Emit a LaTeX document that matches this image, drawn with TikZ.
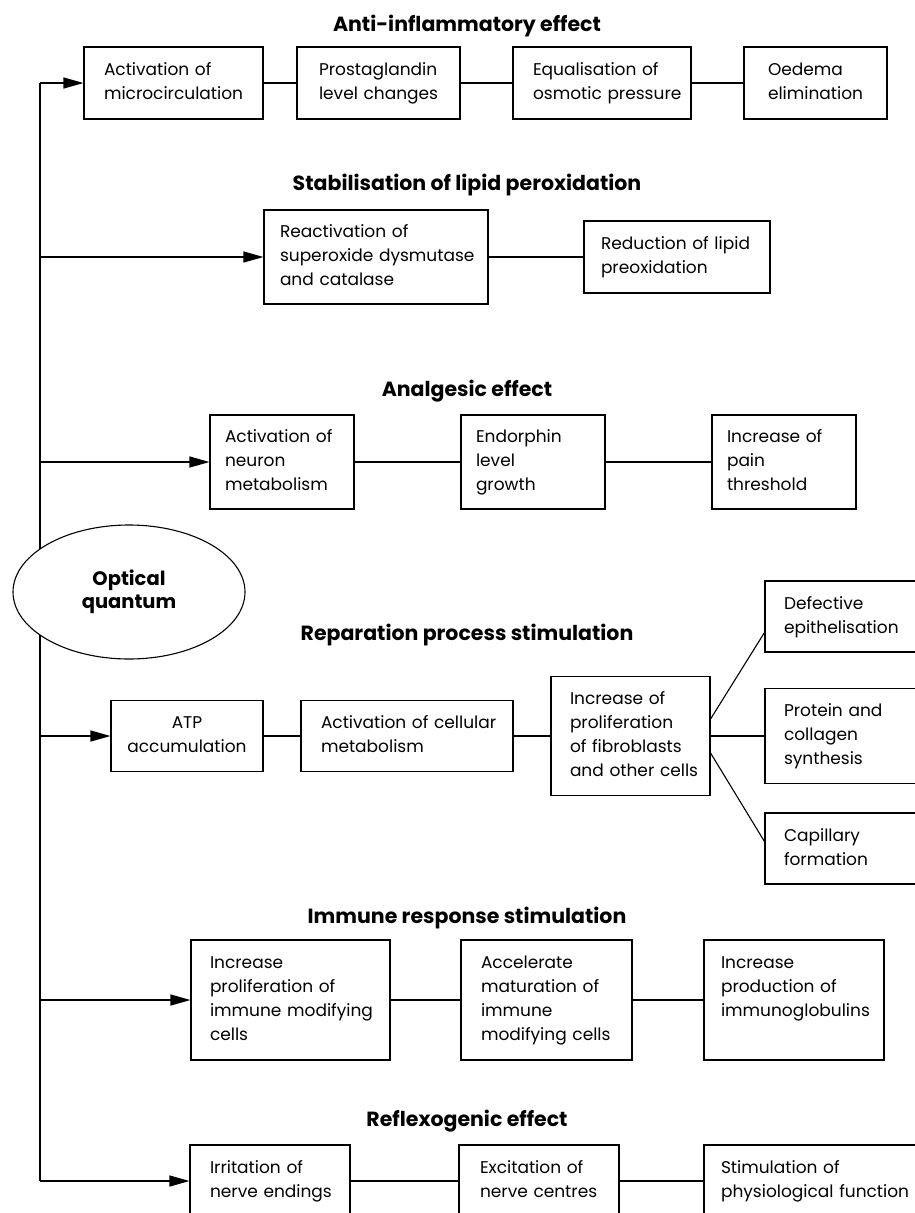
\documentclass[tikz,border=0pt]{standalone}
\usepackage{fontspec}
\setmainfont{Poppins}
\usetikzlibrary{shapes.geometric,arrows.meta}
\newcommand\tl[1]{\begin{tabular}{@{}l@{}}#1\end{tabular}}
\newcommand\tcn[1]{\begin{tabular}{@{}c@{}}#1\end{tabular}}
\begin{document}
\begin{tikzpicture}[x=1pt,y=-1pt,
  every node/.style={font=\fontsize{17}{24}\selectfont},
  bx/.style={draw, line width=1.1pt, inner ysep=0pt, align=left},
  ttl/.style={font=\fontsize{20.5}{24}\selectfont\bfseries, anchor=base, inner sep=0pt},
  ln/.style={line width=1.1pt},
  arr/.style={line width=1.3pt, -{Triangle[length=20pt,width=11pt]}}]
\useasboundingbox (0,0) rectangle (915,1213);
\fill[white] (0,0) rectangle (915,1213);
\clip (0,0) rectangle (915,1213);

% trunk
\coordinate (trunkTop) at (40,83);
\coordinate (trunkBot) at (40,1181);
\draw[ln] (trunkTop) -- (trunkBot);

% source
\node[ellipse, draw, fill=white, line width=1.1pt, minimum width=232pt, minimum height=134pt, inner sep=0pt, align=center, font=\fontsize{19.5}{23}\selectfont\bfseries] (src) at (129,592) {Optical\\quantum};

% titles
\node[ttl] (t1) at (467,31) {Anti-inflammatory effect};
\node[ttl] (t2) at (467,190) {Stabilisation of lipid peroxidation};
\node[ttl] (t3) at (467,396) {Analgesic effect};
\node[ttl] (t4) at (467,640) {Reparation process stimulation};
\node[ttl] (t5) at (467,923) {Immune response stimulation};
\node[ttl] (t6) at (467,1126) {Reflexogenic effect};

% row 1
\node[bx, inner xsep=20pt, text width=139pt, minimum height=72pt] (r1a) at (173.5,83) {\tl{Activation of\\microcirculation}};
\node[bx, inner xsep=22pt, text width=119pt, minimum height=72pt] (r1b) at (378.5,83) {\tl{Prostaglandin\\level changes}};
\node[bx, inner xsep=20pt, text width=138pt, minimum height=72pt] (r1c) at (602,83) {\tl{Equalisation of\\osmotic pressure}};
\node[bx, inner xsep=24pt, text width=95pt, minimum height=72pt] (r1d) at (815.5,83) {\tl{Oedema\\elimination}};

% row 2
\node[bx, inner xsep=16pt, text width=192pt, minimum height=94pt] (r2a) at (376,257) {\tl{Reactivation of\\superoxide dysmutase\\and catalase}};
\node[bx, inner xsep=17pt, text width=152pt, minimum height=72pt] (r2b) at (677,257) {\tl{Reduction of lipid\\preoxidation}};

% row 3
\node[bx, inner xsep=15pt, text width=114pt, minimum height=94pt] (r3a) at (282,462) {\tl{Activation of\\neuron\\metabolism}};
\node[bx, inner xsep=15pt, text width=114pt, minimum height=94pt] (r3b) at (533,462) {\tl{Endorphin\\level\\growth}};
\node[bx, inner xsep=15pt, text width=114pt, minimum height=94pt] (r3c) at (784,462) {\tl{Increase of\\pain\\threshold}};

% row 4
\node[bx, align=center, inner xsep=10pt, text width=132pt, minimum height=71pt] (r4a) at (187,736) {\tcn{ATP\\accumulation}};
\node[bx, inner xsep=20pt, text width=172pt, minimum height=71pt] (r4b) at (407,736) {\tl{Activation of cellular\\metabolism}};
\node[bx, inner xsep=19pt, text width=121pt, minimum height=119pt] (r4c) at (630.5,736) {\tl{Increase of\\proliferation\\of fibroblasts\\and other cells}};
\node[bx, inner xsep=19pt, text width=115pt, minimum height=71pt] (r4d) at (841.5,616.5) {\tl{Defective\\epithelisation}};
\node[bx, inner xsep=19pt, text width=115pt, minimum height=95pt] (r4e) at (841.5,736) {\tl{Protein and\\collagen\\synthesis}};
\node[bx, inner xsep=19pt, text width=115pt, minimum height=71pt] (r4f) at (841.5,848.5) {\tl{Capillary\\formation}};

% row 5
\node[bx, inner xsep=19pt, text width=161pt, minimum height=120pt] (r5a) at (290.5,1000) {\tl{Increase\\proliferation of\\immune modifying\\cells}};
\node[bx, inner xsep=20pt, text width=131pt, minimum height=120pt] (r5b) at (546.5,1000) {\tl{Accelerate\\maturation of\\immune\\modifying cells}};
\node[bx, inner xsep=17pt, text width=146pt, minimum height=120pt] (r5c) at (794,1000) {\tl{Increase\\production of\\immunoglobulins\\\mbox{}}};

% row 6
\node[bx, inner xsep=20pt, text width=120pt, minimum height=72pt] (r6a) at (270,1181) {\tl{Irritation of\\nerve endings}};
\node[bx, inner xsep=21pt, text width=118pt, minimum height=72pt] (r6b) at (539,1181) {\tl{Excitation of\\nerve centres}};
\node[bx, inner xsep=17pt, text width=180pt, minimum height=72pt] (r6c) at (811,1181) {\tl{Stimulation of\\physiological function}};

% arrows from trunk
\draw[arr] (trunkTop) -- (r1a.west);
\draw[arr] (r2a.west -| trunkTop) -- (r2a.west);
\draw[arr] (r3a.west -| trunkTop) -- (r3a.west);
\draw[arr] (r4a.west -| trunkTop) -- (r4a.west);
\draw[arr] (r5a.west -| trunkTop) -- (r5a.west);
\draw[arr] (trunkBot) -- (r6a.west);

% chain links
\draw[ln] (r1a) -- (r1b);
\draw[ln] (r1b) -- (r1c);
\draw[ln] (r1c) -- (r1d);
\draw[ln] (r2a) -- (r2b);
\draw[ln] (r3a) -- (r3b);
\draw[ln] (r3b) -- (r3c);
\draw[ln] (r4a) -- (r4b);
\draw[ln] (r4b) -- (r4c);
\draw[ln] (r4c.east) -- (r4e.west);
\draw[ln] ([yshift=17pt]r4c.east) -- ([yshift=20pt]r4d.south west);
\draw[ln] ([yshift=-17pt]r4c.east) -- ([yshift=-29pt]r4f.north west);
\draw[ln] (r5a) -- (r5b);
\draw[ln] (r5b) -- (r5c);
\draw[ln] (r6a) -- (r6b);
\draw[ln] (r6b) -- (r6c);
\end{tikzpicture}
\end{document}
